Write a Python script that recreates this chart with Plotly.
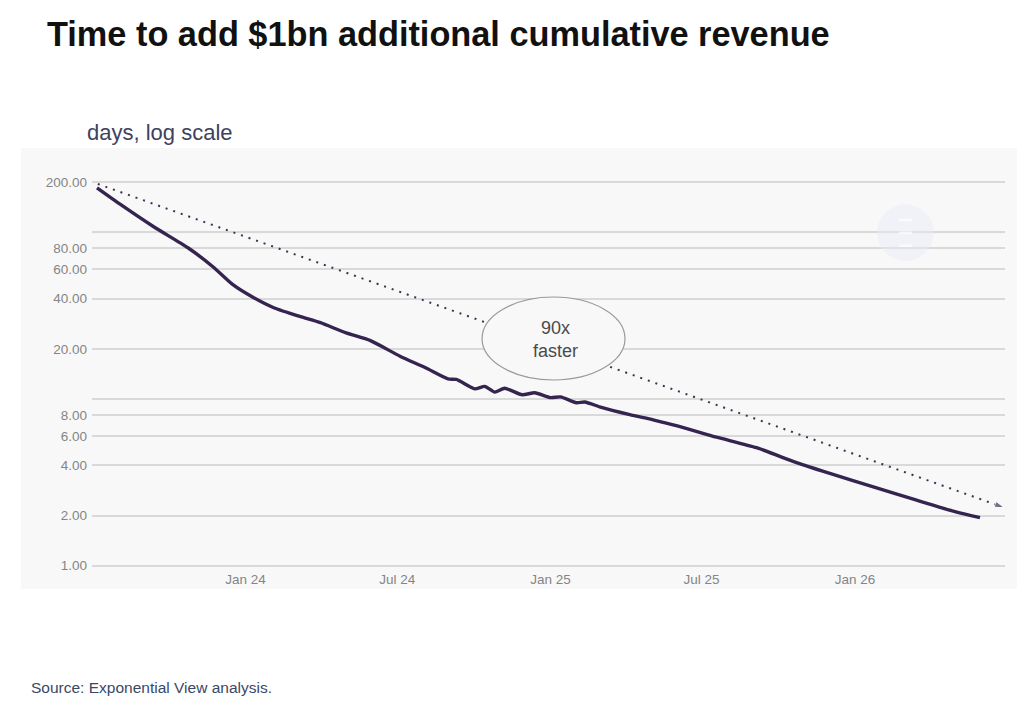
import plotly.graph_objects as go

# days needed to add the next $1bn of cumulative revenue
dates = ["2023-07-07", "2023-08-05", "2023-09-13", "2023-10-24", "2023-11-23", "2023-12-17",
         "2024-01-11", "2024-02-04", "2024-03-07", "2024-03-31", "2024-04-30", "2024-05-30",
         "2024-07-05", "2024-08-04", "2024-08-31", "2024-09-10", "2024-10-02", "2024-10-14",
         "2024-10-26", "2024-11-07", "2024-11-28", "2024-12-13", "2025-01-01", "2025-01-13",
         "2025-02-01", "2025-02-11", "2025-03-03", "2025-04-06", "2025-05-04", "2025-06-02",
         "2025-07-19", "2025-09-05", "2025-10-23", "2025-11-30", "2026-01-26", "2026-03-14",
         "2026-05-01", "2026-05-31"]
days = [185, 146, 108, 80.8, 62.2, 48.5,
        40.5, 35.3, 31.2, 28.7, 25.0, 22.4,
        18.0, 15.4, 13.2, 13.1, 11.5, 11.9,
        11.0, 11.6, 10.6, 10.9, 10.2, 10.3,
        9.5, 9.6, 8.9, 8.05, 7.5, 6.9,
        5.9, 5.1, 4.15, 3.6, 2.94, 2.49,
        2.11, 1.94]

trend_dates = ["2023-07-08", "2026-06-29"]
trend_days = [195, 2.23]

tick_vals = [1, 2, 4, 6, 8, 10, 20, 40, 60, 80, 100, 200]
tick_text = ["1.00", "2.00", "4.00", "6.00", "8.00", "", "20.00", "40.00", "60.00", "80.00", "", "200.00"]
x_ticks = ["2024-01-01", "2024-07-01", "2025-01-01", "2025-07-01", "2026-01-01"]
x_labels = ["Jan 24", "Jul 24", "Jan 25", "Jul 25", "Jan 26"]

fig = go.Figure()

fig.add_trace(go.Scatter(
    x=trend_dates, y=trend_days, mode="lines+markers",
    line=dict(color="#3b3450", width=2, dash="2px,6px"),
    marker=dict(symbol=["circle", "arrow"], size=[0, 10], angleref="previous",
                color="#3b3450"),
    hoverinfo="skip", showlegend=False,
))

fig.add_trace(go.Scatter(
    x=dates, y=days, mode="lines",
    line=dict(color="#35244f", width=3.4, shape="spline", smoothing=0.6),
    showlegend=False,
))

# grey panel behind the chart
fig.add_shape(type="rect", xref="paper", yref="paper", x0=-0.078, x1=1.013, y0=-0.051, y1=1.0795,
              fillcolor="#f8f8f8", line_width=0, layer="below")

# the 10-day line is a bit stronger, the 100-day line fainter
fig.add_shape(type="line", xref="paper", yref="y", x0=0, x1=1, y0=tick_vals[5], y1=tick_vals[5],
              line=dict(color="#c2c2c2", width=2), layer="between")
fig.add_shape(type="line", xref="paper", yref="y", x0=0, x1=1, y0=tick_vals[10], y1=tick_vals[10],
              line=dict(color="#ececec", width=2), layer="between")

# "90x faster" bubble
fig.add_shape(type="circle", xref="paper", yref="paper", x0=0.4272, x1=0.5838, y0=0.4846, y1=0.6974,
              fillcolor="#f8f8f8", line=dict(color="#9a9a9a", width=1.2))
fig.add_annotation(x=0.5075, y=0.588, xref="paper", yref="paper", text="90x<br>faster",
                   showarrow=False, font=dict(family="Liberation Sans", size=18, color="#4a4a4a"))

# faint watermark logo
fig.add_shape(type="circle", xref="paper", yref="paper", x0=0.86, x1=0.922, y0=0.79, y1=0.935,
              fillcolor="rgba(232,232,248,0.45)", line_width=0)
for yy in [0.895, 0.862, 0.829]:
    fig.add_shape(type="line", xref="paper", yref="paper", x0=0.884, x1=0.898, y0=yy, y1=yy,
                  line=dict(color="rgba(255,255,255,0.7)", width=2.5))

fig.add_annotation(x=-0.0075, y=1.1205, xref="paper", yref="paper", xanchor="left", yanchor="middle",
                   text="days, log scale", showarrow=False,
                   font=dict(family="Liberation Sans", size=22, color="#3e4260"))
fig.add_annotation(x=-0.0515, y=1.372, xref="paper", yref="paper", xanchor="left", yanchor="middle",
                   text="<b>Time to add $1bn additional cumulative revenue</b>", showarrow=False,
                   font=dict(family="Liberation Sans", size=34.3, color="#111111"))
fig.add_annotation(x=-0.069, y=-0.305, xref="paper", yref="paper", xanchor="left", yanchor="middle",
                   text="Source: Exponential View analysis.", showarrow=False,
                   font=dict(family="Liberation Sans", size=15.5, color="#3a4868"))

fig.update_xaxes(range=["2023-07-01", "2026-06-30"], tickvals=x_ticks, ticktext=x_labels,
                 showgrid=False, zeroline=False, showline=False, ticks="",
                 tickfont=dict(family="Liberation Sans", size=13.5, color="#858585"))
fig.update_yaxes(type="log", range=[-0.02, 2.32], tickvals=tick_vals, ticktext=tick_text,
                 showgrid=True, gridcolor="#d9d9d9", gridwidth=1.5, zeroline=False,
                 showline=False, ticks="", ticklabelstandoff=4,
                 tickfont=dict(family="Liberation Sans", size=13.5, color="#858585"))

fig.update_layout(
    width=1032, height=708,
    margin=dict(l=84, r=35, t=171, b=147),
    paper_bgcolor="white", plot_bgcolor="rgba(0,0,0,0)",
    hovermode="x",
)

fig.write_html("out.html")
